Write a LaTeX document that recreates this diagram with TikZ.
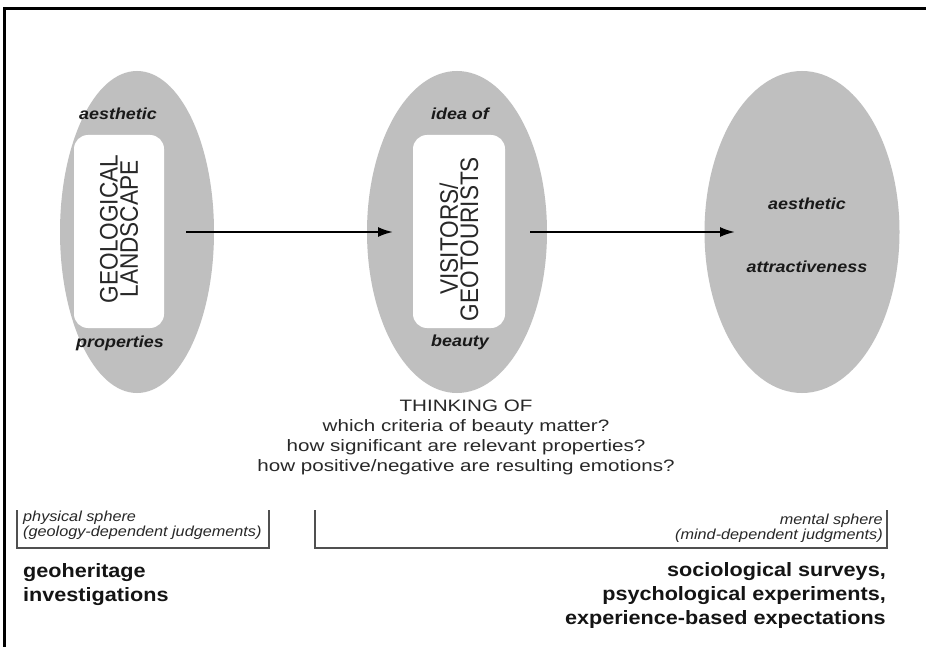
\documentclass[tikz,border=0pt]{standalone}
\usepackage{fontspec}
\setmainfont{Liberation Sans}[FakeStretch=1.12]
\newfontfamily\plainsans{Liberation Sans}
\usepackage{graphicx}
\usetikzlibrary{shapes.geometric,arrows.meta}
\definecolor{ellgray}{RGB}{191,191,191}
\definecolor{txt}{RGB}{40,40,40}
\definecolor{brk}{RGB}{80,80,80}
\newcommand\vstack[2]{\scalebox{1}[1.12]{\vbox{\halign{\hfil##\hfil\cr #1\cr #2\cr}}}}
\newcommand\wideblock[1]{\scalebox{1.25}[1]{\vbox{\halign{\hfil##\hfil\cr #1\crcr}}}}
\begin{document}
\begin{tikzpicture}[x=1pt,y=-1pt,
  oval/.style={ellipse, fill=ellgray, inner sep=0pt, minimum height=322pt},
  whitebox/.style={rounded corners=14pt, fill=white, inner sep=0pt, minimum height=193pt},
  vtext/.style={rotate=90, inner sep=0pt, text=txt, font=\plainsans\fontsize{22.6}{18}\selectfont},
  ovallabel/.style={inner sep=0pt, anchor=base, text=black!90, font=\bfseries\itshape\fontsize{16}{19}\selectfont},
  flow/.style={line width=2pt, -{Latex[length=15pt,width=10pt]}},
  bracket/.style={draw=brk, line width=1.5pt},
  sphere/.style={inner sep=0pt, text=txt, font=\itshape\fontsize{14.5}{15}\selectfont},
  method/.style={inner sep=0pt, text=black!92, font=\bfseries\fontsize{19.3}{24}\selectfont},
  question/.style={inner sep=0pt, text=txt, font=\plainsans\fontsize{16.5}{20}\selectfont}
]
\useasboundingbox (0,0) rectangle (926,647);
\fill[white] (0,0) rectangle (926,647);
% frame
\draw[line width=3pt, line join=miter] (4,647) -- (4,9) -- (926,9);
% ovals
\node[oval, minimum width=154pt] (e1) at (137,232) {};
\node[oval, minimum width=180pt] (e2) at (457,232) {};
\node[oval, minimum width=195pt] (e3) at (802,232) {};
% white boxes
\node[whitebox, minimum width=90pt] (r1) at (119,231.5) {};
\node[whitebox, minimum width=92pt] (r2) at (459,231.5) {};
\node[vtext] (t1) at (119,229) {\vstack{GEOLOGICAL}{LANDSCAPE}};
\node[vtext] (t2) at (459,239) {\vstack{VISITORS/}{GEOTOURISTS}};
% labels
\node[ovallabel] (l1a) at (118,120) {aesthetic};
\node[ovallabel] (l1b) at (120,347) {properties};
\node[ovallabel] (l2a) at (460,120) {idea of};
\node[ovallabel] (l2b) at (460,346) {beauty};
\node[ovallabel] (l3a) at (807,210) {aesthetic};
\node[ovallabel] (l3b) at (807,272) {attractiveness};
% arrows
\draw[flow] ([xshift=49pt]e1.center) -- ([xshift=-64pt]e2.center);
\draw[flow] ([xshift=73pt]e2.center) -- ([xshift=-67pt]e3.center);
% thinking text
\node[question, anchor=north] (think) at (466,400.2)
  {\wideblock{THINKING OF\cr which criteria of beauty matter?\cr how significant are relevant properties?\cr how positive/negative are resulting emotions?}};
% brackets
\draw[bracket] (17,510) -- (17,548) -- (269,548) -- (269,510);
\draw[bracket] (315,510) -- (315,548) -- (887,548) -- (887,510);
\node[sphere, anchor=north west, align=left] (phys) at (23,510.5) {physical sphere\\(geology-dependent judgements)};
\node[sphere, anchor=north east, align=right] (ment) at (883,514) {mental sphere\\(mind-dependent judgments)};
% methods
\node[method, anchor=north west, align=left] (geo) at (23,563) {geoheritage\\investigations};
\node[method, anchor=north east, align=right] (soc) at (886,562) {sociological surveys,\\psychological experiments,\\experience-based expectations};
\end{tikzpicture}
\end{document}
